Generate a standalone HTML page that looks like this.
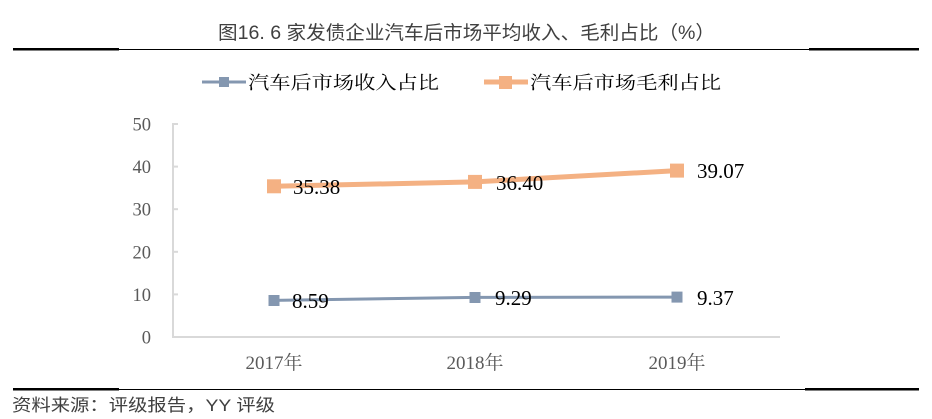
<!DOCTYPE html>
<html><head><meta charset="utf-8">
<style>
html,body{margin:0;padding:0;background:#fff;}
svg{display:block;}
</style></head>
<body>
<svg width="932" height="419" viewBox="0 0 932 419" xmlns="http://www.w3.org/2000/svg">
  <rect width="932" height="419" fill="#fff"/>
  <!-- Title -->
  <text x="218" y="39" font-family="'Liberation Sans','Noto Sans CJK SC',sans-serif" font-size="19" fill="#404040" textLength="497" lengthAdjust="spacingAndGlyphs">图16. 6 家发债企业汽车后市场平均收入、毛利占比（%）</text>
  <!-- top rule -->
  <rect x="13" y="48" width="106" height="2.5" fill="#000"/>
  <rect x="119" y="49" width="690" height="1" fill="#000"/>
  <rect x="809" y="48" width="110" height="2.5" fill="#000"/>

  <!-- Legend -->
  <line x1="202" y1="82" x2="246" y2="82" stroke="#8497B0" stroke-width="3"/>
  <rect x="219" y="77" width="10" height="10" fill="#8497B0"/>
  <text x="248" y="89" font-family="'Noto Serif CJK SC','Noto Sans CJK SC',serif" font-size="18" fill="#000" textLength="191" lengthAdjust="spacingAndGlyphs">汽车后市场收入占比</text>
  <line x1="484" y1="82" x2="528" y2="82" stroke="#F4B183" stroke-width="5"/>
  <rect x="499" y="76" width="13" height="13" fill="#F4B183"/>
  <text x="530" y="89" font-family="'Noto Serif CJK SC','Noto Sans CJK SC',serif" font-size="18" fill="#000" textLength="191" lengthAdjust="spacingAndGlyphs">汽车后市场毛利占比</text>

  <!-- Axes -->
  <line x1="173" y1="123" x2="173" y2="338" stroke="#d9d9d9" stroke-width="2"/>
  <line x1="172" y1="337" x2="780" y2="337" stroke="#d9d9d9" stroke-width="2"/>
  <g stroke="#d9d9d9" stroke-width="2">
    <line x1="173" y1="124" x2="178" y2="124"/>
    <line x1="173" y1="166.6" x2="178" y2="166.6"/>
    <line x1="173" y1="209.2" x2="178" y2="209.2"/>
    <line x1="173" y1="251.8" x2="178" y2="251.8"/>
    <line x1="173" y1="294.4" x2="178" y2="294.4"/>
  </g>
  <g font-family="'Liberation Serif',serif" font-size="18.5" fill="#595959" text-anchor="end">
    <text x="151" y="130.5">50</text>
    <text x="151" y="173.1">40</text>
    <text x="151" y="215.7">30</text>
    <text x="151" y="258.3">20</text>
    <text x="151" y="300.9">10</text>
    <text x="151" y="343.5">0</text>
  </g>
  <g font-family="'Liberation Serif','Noto Serif CJK SC',serif" font-size="19" fill="#595959" text-anchor="middle">
    <text x="274" y="369" textLength="57" lengthAdjust="spacingAndGlyphs">2017年</text>
    <text x="475" y="369" textLength="57" lengthAdjust="spacingAndGlyphs">2018年</text>
    <text x="677" y="369" textLength="57" lengthAdjust="spacingAndGlyphs">2019年</text>
  </g>

  <!-- Orange series -->
  <polyline points="274,186.3 475,181.9 677,170.6" fill="none" stroke="#F4B183" stroke-width="5" stroke-linejoin="round"/>
  <rect x="267" y="179.3" width="14" height="14" fill="#F4B183"/>
  <rect x="468" y="174.9" width="14" height="14" fill="#F4B183"/>
  <rect x="670" y="163.6" width="14" height="14" fill="#F4B183"/>

  <!-- Blue series -->
  <polyline points="274,300.4 475,297.4 677,297.1" fill="none" stroke="#8497B0" stroke-width="3" stroke-linejoin="round"/>
  <rect x="268.5" y="295" width="11" height="11" fill="#8497B0"/>
  <rect x="469.5" y="292" width="11" height="11" fill="#8497B0"/>
  <rect x="671.5" y="291.6" width="11" height="11" fill="#8497B0"/>

  <!-- Data labels -->
  <g font-family="'Liberation Serif',serif" font-size="21" fill="#000">
    <text x="293" y="194">35.38</text>
    <text x="496" y="190">36.40</text>
    <text x="697" y="178">39.07</text>
    <text x="292" y="308">8.59</text>
    <text x="495" y="305">9.29</text>
    <text x="697" y="305">9.37</text>
  </g>

  <!-- bottom rule -->
  <rect x="13" y="388" width="106" height="2.5" fill="#000"/>
  <rect x="119" y="389" width="686" height="1" fill="#000"/>
  <rect x="805" y="388" width="114" height="2.5" fill="#000"/>

  <!-- Footer -->
  <text x="12" y="411" font-family="'Liberation Sans','Noto Sans CJK SC',sans-serif" font-size="17" fill="#404040" textLength="263" lengthAdjust="spacingAndGlyphs">资料来源：评级报告，YY 评级</text>
</svg>
</body></html>
